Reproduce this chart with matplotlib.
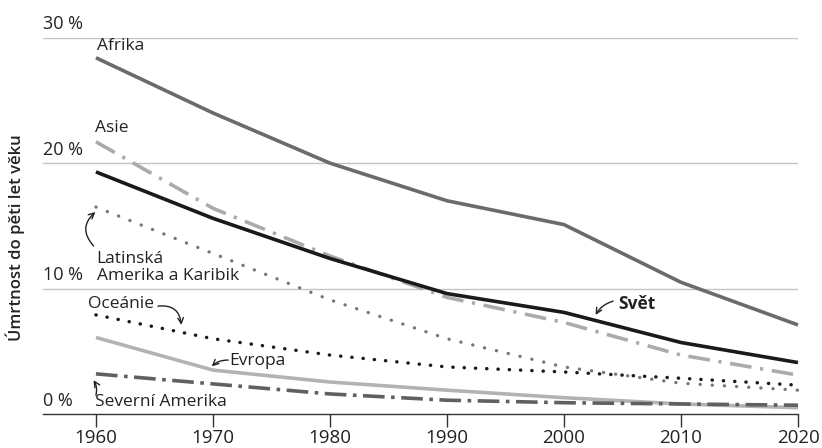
import matplotlib
matplotlib.use("Agg")
import matplotlib.pyplot as plt

plt.rcParams['font.family'] = ['Open Sans', 'DejaVu Sans']

years = [1960, 1970, 1980, 1990, 2000, 2010, 2020]

# úmrtnost do pěti let věku, v %
afrika = [28.4, 24.0, 20.0, 17.0, 15.1, 10.5, 7.1]
asie = [21.7, 16.4, 12.6, 9.3, 7.3, 4.7, 3.1]
svet = [19.3, 15.6, 12.4, 9.6, 8.1, 5.7, 4.1]
latinska = [16.5, 12.8, 9.1, 6.0, 3.75, 2.45, 1.9]
oceanie = [7.9, 6.0, 4.7, 3.75, 3.35, 2.85, 2.3]
evropa = [6.1, 3.5, 2.55, 1.9, 1.3, 0.8, 0.5]
sev_amerika = [3.2, 2.4, 1.6, 1.1, 0.9, 0.8, 0.7]

yticks = [0, 10, 20, 30]
ytick_labels = ['0 %', '10 %', '20 %', '30 %']

W, H = 822, 448
fig = plt.figure(figsize=(W / 100, H / 100), dpi=100)
ax = fig.add_axes([42.7 / W, 34 / H, (798 - 42.7) / W, (414 - 37.7) / H])
ax.set_xlim(1955.45, 2020)
ax.set_ylim(0, 30)

for s in ['top', 'right', 'left']:
    ax.spines[s].set_visible(False)
ax.spines['bottom'].set_color('#333333')
ax.spines['bottom'].set_linewidth(1.0)

for v in yticks[1:]:
    ax.axhline(v, color='#c4c4c4', lw=1.0, zorder=0)

ax.set_yticks([])
ax.set_xticks(years)
ax.tick_params(axis='x', length=9, width=1.0, color='#333333',
               labelsize=13.5, labelcolor='#222222', pad=2)

for v, lab in zip(yticks, ytick_labels):
    ax.text(1955.5, v + 0.35, lab, fontsize=13, color='#222222',
            ha='left', va='bottom')

ax.text(-0.036, 0.47, 'Úmrtnost do pěti let věku', transform=ax.transAxes,
        rotation=90, ha='center', va='center', fontsize=12,
        fontweight='semibold', color='#222222')

kw = dict(clip_on=False, solid_capstyle='butt')
ax.plot(years, afrika, color='#6b6b6b', lw=2.6, zorder=3, **kw)
ax.plot(years, asie, color='#ababab', lw=2.6, zorder=3,
        linestyle=(0, (6.0, 2.4, 0.9, 2.4)), dash_capstyle='butt', clip_on=False)
ax.plot(years, svet, color='#1a1a1a', lw=2.6, zorder=4, **kw)
ax.plot(years, latinska, color='#777777', lw=2.4, zorder=3,
        linestyle=(0, (0.05, 3.6)), dash_capstyle='round', clip_on=False)
ax.plot(years, oceanie, color='#1a1a1a', lw=2.5, zorder=3,
        linestyle=(0, (0.05, 3.2)), dash_capstyle='round', clip_on=False)
ax.plot(years, evropa, color='#b3b3b3', lw=2.6, zorder=3, **kw)
ax.plot(years, sev_amerika, color='#606060', lw=2.6, zorder=3,
        linestyle=(0, (6.0, 1.8, 1.0, 1.8)), dash_capstyle='butt', clip_on=False)

tc = '#222222'
fs = 12.5
ax.text(1960.05, 29.3, 'Afrika', fontsize=fs, color=tc, ha='left', va='center')
ax.text(1959.9, 22.8, 'Asie', fontsize=fs, color=tc, ha='left', va='center')
ax.text(1960.05, 11.7, 'Latinská\nAmerika a Karibik', fontsize=fs, color=tc,
        ha='left', va='center', linespacing=1.05)
ax.text(1959.3, 8.8, 'Oceánie', fontsize=fs, color=tc, ha='left', va='center')
ax.text(1971.4, 4.2, 'Evropa', fontsize=fs, color=tc, ha='left', va='center')
ax.text(1959.9, 0.95, 'Severní Amerika', fontsize=fs, color=tc, ha='left', va='center')
ax.text(2004.6, 8.8, 'Svět', fontsize=fs, color=tc, ha='left', va='center',
        fontweight='bold')

arr = dict(arrowstyle='->', color='#222222', lw=1.0, shrinkA=0, shrinkB=0)
ax.annotate('', xy=(1959.95, 16.1), xytext=(1959.8, 13.4),
            arrowprops=dict(arr, connectionstyle='arc3,rad=-0.5'))
ax.annotate('', xy=(1967.3, 7.1), xytext=(1965.3, 8.6),
            arrowprops=dict(arr, connectionstyle='arc3,rad=-0.5'))
ax.annotate('', xy=(1969.9, 3.8), xytext=(1971.3, 4.3),
            arrowprops=dict(arr, connectionstyle='arc3,rad=0.2'))
ax.annotate('', xy=(1959.8, 2.7), xytext=(1960.0, 1.5),
            arrowprops=dict(arr, connectionstyle='arc3,rad=0.2'))
ax.annotate('', xy=(2002.7, 7.9), xytext=(2004.2, 9.0),
            arrowprops=dict(arr, connectionstyle='arc3,rad=0.2'))

fig.savefig('out.png', dpi=100)
